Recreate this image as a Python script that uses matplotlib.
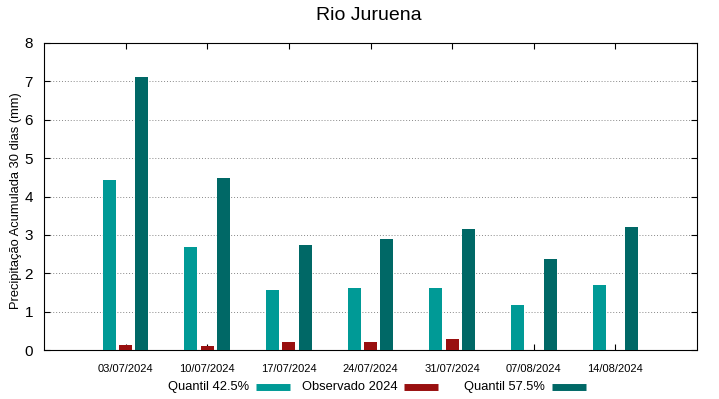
import numpy as np
import matplotlib
matplotlib.use("Agg")
import matplotlib.pyplot as plt
import matplotlib.transforms as mtransforms
from matplotlib.lines import Line2D

plt.rcParams["font.family"] = ["Liberation Sans", "DejaVu Sans"]

dates = ["03/07/2024", "10/07/2024", "17/07/2024", "24/07/2024",
         "31/07/2024", "07/08/2024", "14/08/2024"]
q425 = [4.43, 2.68, 1.56, 1.61, 1.61, 1.17, 1.69]
obs2024 = [0.13, 0.10, 0.20, 0.20, 0.29, 0.0, 0.0]
q575 = [7.11, 4.48, 2.73, 2.89, 3.15, 2.37, 3.20]

c_q425 = "#009a96"
c_obs = "#990f0f"
c_q575 = "#006866"

fig = plt.figure(figsize=(7.19, 3.99), dpi=100)
ax = fig.add_axes([44 / 719, 1 - 350 / 399, 653 / 719, 307 / 399])

x = np.arange(len(dates))
w = 0.16
ax.bar(x - 0.2, q425, width=w, color=c_q425, zorder=3)
ax.bar(x, obs2024, width=w, color=c_obs, zorder=3)
ax.bar(x + 0.2, q575, width=w, color=c_q575, zorder=3)

ax.set_xlim(-1, 7)
ax.set_ylim(0, 8)
ax.set_yticks(range(0, 9))
ax.set_xticks(x)
ax.set_xticklabels(dates, fontsize=8)
offset = mtransforms.ScaledTranslation(7 / 100, 0, fig.dpi_scale_trans)
for lbl in ax.get_xticklabels():
    lbl.set_transform(lbl.get_transform() + offset)
ax.tick_params(axis="x", direction="in", top=True, length=4, width=0.8, pad=10)
ax.tick_params(axis="y", direction="in", right=True, length=4, width=0.8,
               labelsize=11, pad=8)
ax.yaxis.grid(True, linestyle=(0, (1, 2)), color="#888888", linewidth=0.7, zorder=0)
for s in ax.spines.values():
    s.set_linewidth(0.8)

fig.text(16 / 719, 1 - 201 / 399, "Precipitação Acumulada 30 dias (mm)",
         rotation=90, ha="center", va="center", fontsize=9.3)
fig.text(369 / 719, 1 - 16 / 399, "Rio Juruena", ha="center", va="center", fontsize=14)

# legend in gnuplot style: text followed by the sample
entries = [("Quantil 42.5%", c_q425, 249, 256),
           ("Observado 2024", c_obs, 398, 404),
           ("Quantil 57.5%", c_q575, 545, 552)]
ly = 1 - 387 / 399
for label, col, tx, sx in entries:
    fig.text(tx / 719, ly, label, ha="right", va="center", fontsize=9.3)
    fig.add_artist(Line2D([sx / 719, (sx + 34) / 719], [ly, ly], color=col,
                          linewidth=5, solid_capstyle="butt",
                          transform=fig.transFigure))

fig.savefig("out.png", dpi=100)
